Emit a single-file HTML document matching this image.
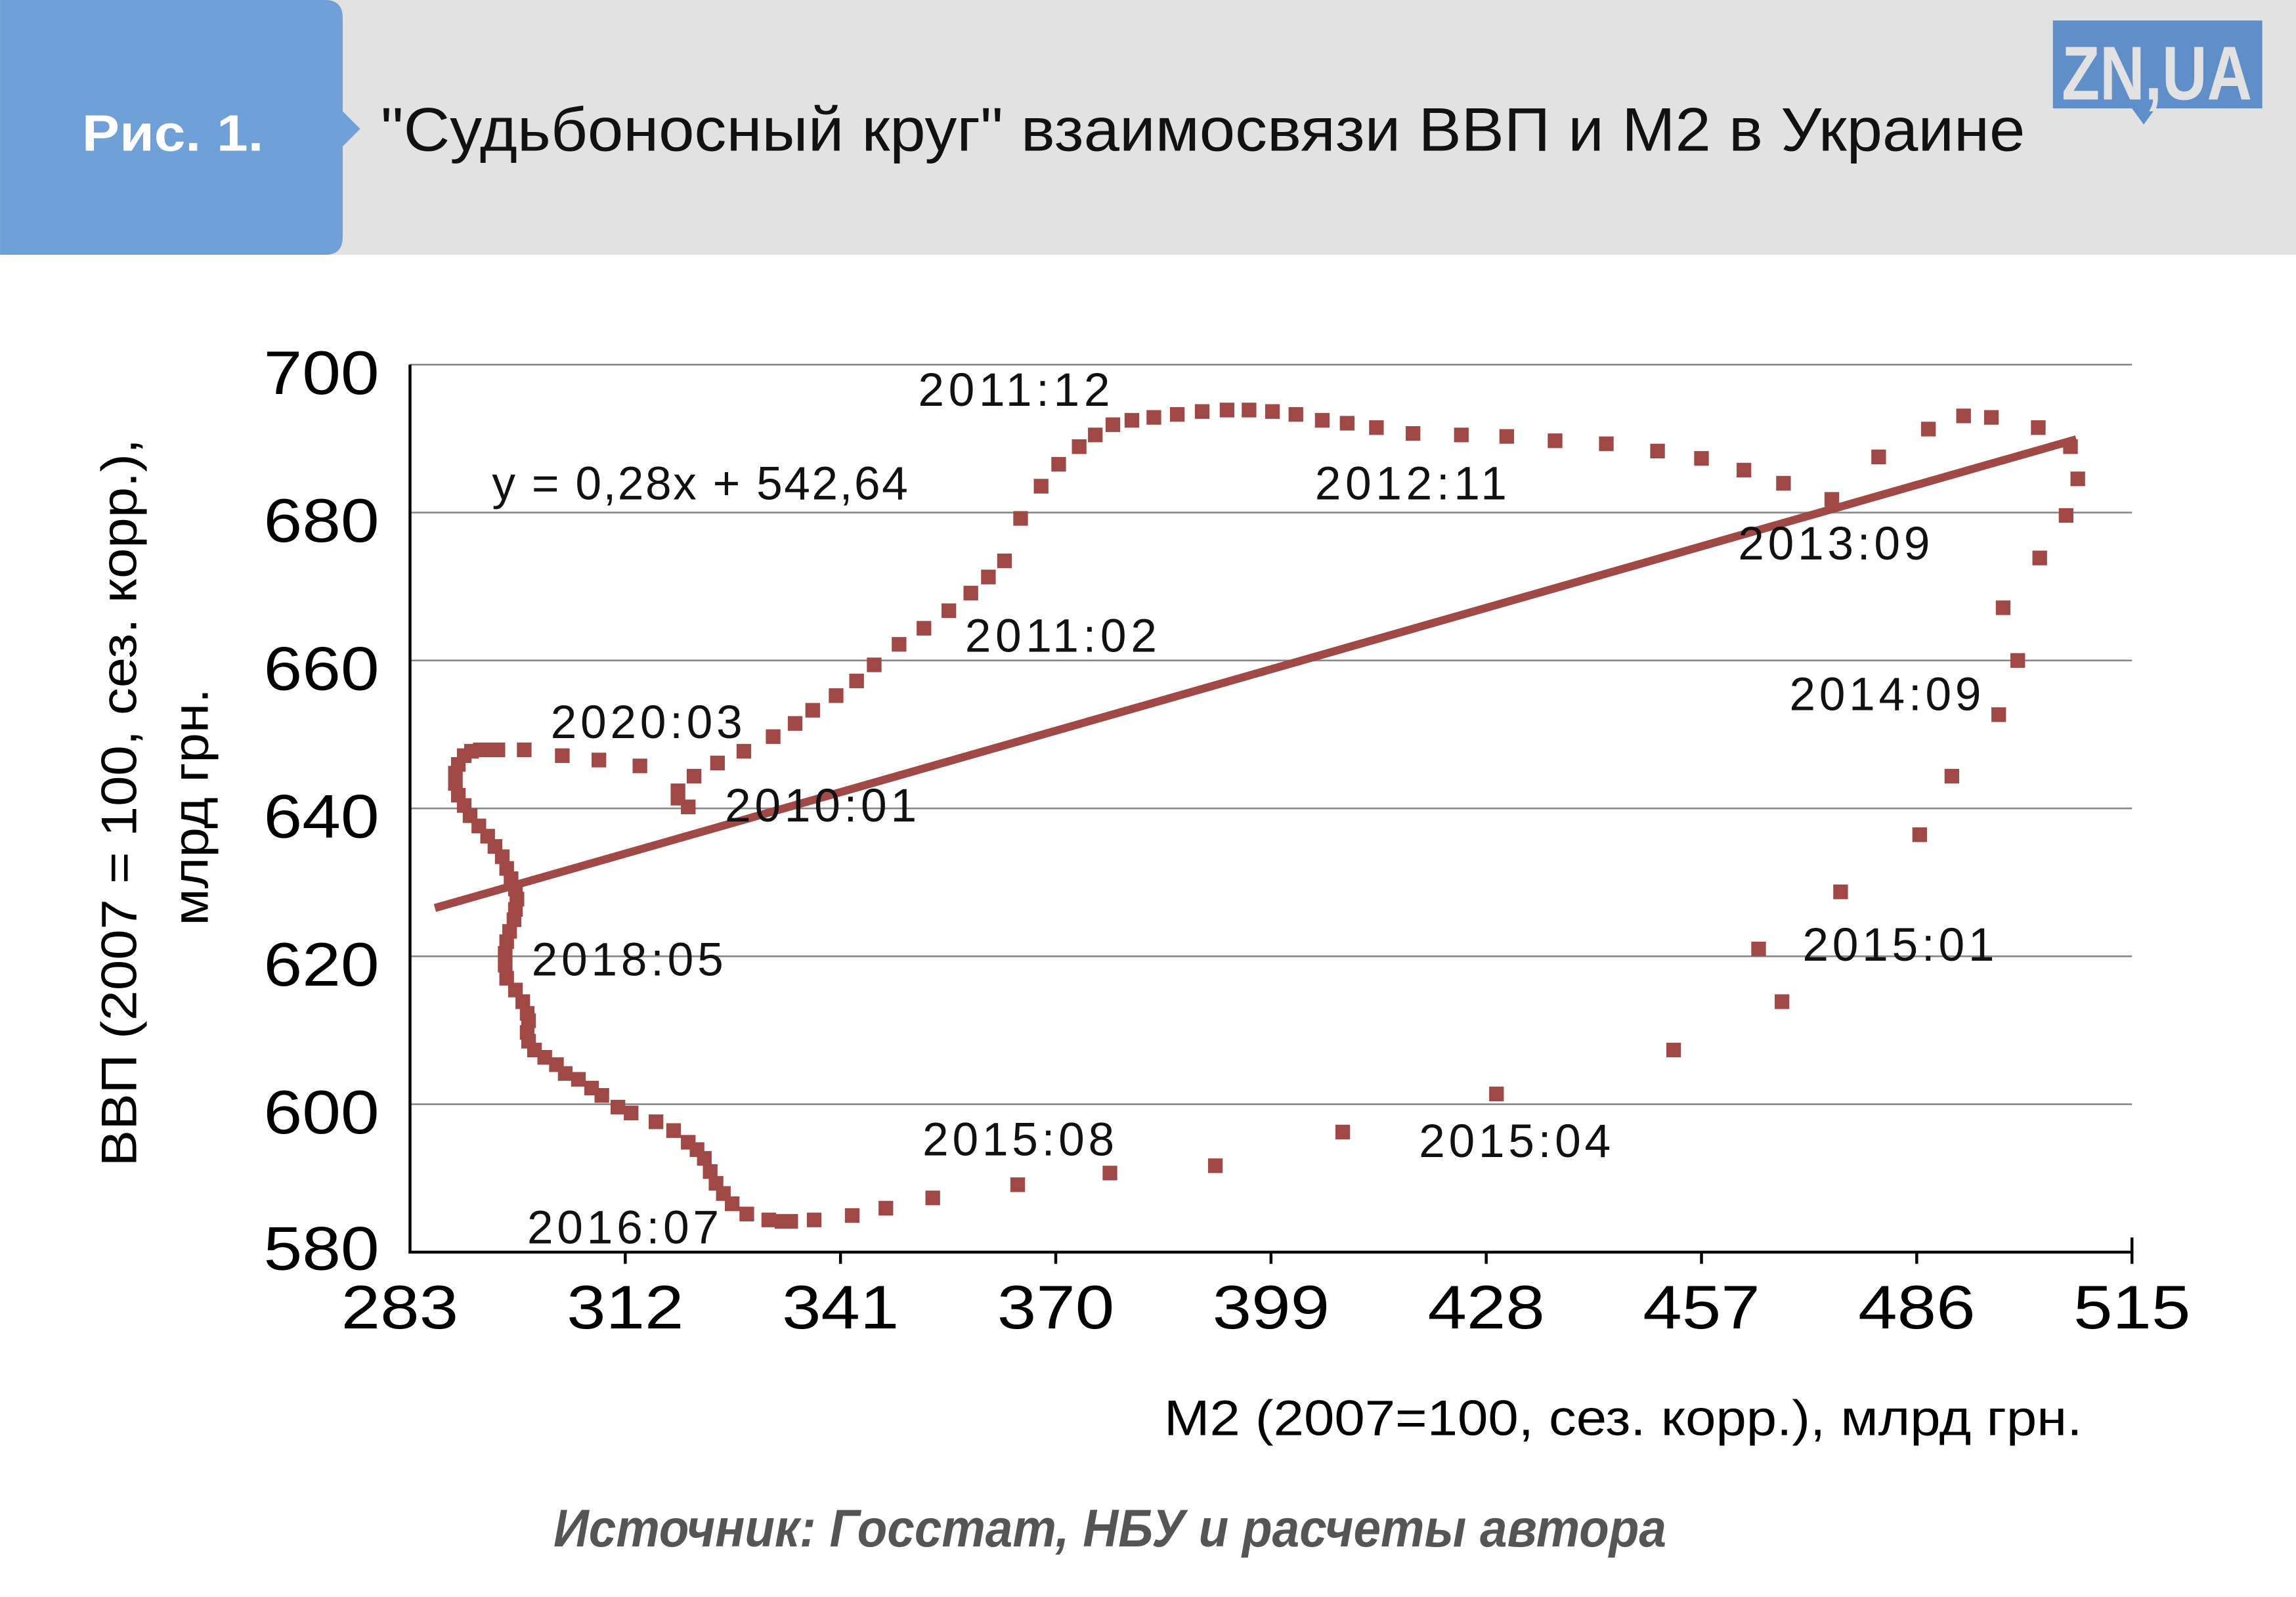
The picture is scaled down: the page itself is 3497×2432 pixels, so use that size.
<!DOCTYPE html>
<html><head><meta charset="utf-8"><style>
html,body{margin:0;padding:0;background:#fff}
svg{display:block}
text{font-family:"Liberation Sans",sans-serif}
</style></head><body>
<svg width="3497" height="2432" viewBox="0 0 1568 1090.5" xmlns="http://www.w3.org/2000/svg">
<rect x="0" y="0" width="1568" height="174" fill="#e2e2e2"/>
<path d="M0 0 H222 Q234 0 234 12 V76 L246 88 L234 100 V162 Q234 174 222 174 H0 Z" fill="#6fa0d8"/>
<text x="56" y="103" fill="#fff" font-size="35" font-weight="bold" textLength="124" lengthAdjust="spacingAndGlyphs">Рис. 1.</text>
<text x="260" y="103" fill="#111" font-size="42" textLength="1123" lengthAdjust="spacingAndGlyphs">"Судьбоносный круг" взаимосвязи ВВП и М2 в Украине</text>
<rect x="1402" y="14" width="143" height="60" fill="#5f8ec8"/>
<path d="M1456 74 L1472 74 L1464 85 Z" fill="#5f8ec8"/>
<text x="1473" y="68" fill="#e2e2e2" font-size="52" font-weight="bold" text-anchor="middle" textLength="130" lengthAdjust="spacingAndGlyphs">ZN,UA</text>
<g stroke="#888" stroke-width="1.2">
<line x1="280" y1="249" x2="1456" y2="249"/>
<line x1="280" y1="350" x2="1456" y2="350"/>
<line x1="280" y1="451" x2="1456" y2="451"/>
<line x1="280" y1="552" x2="1456" y2="552"/>
<line x1="280" y1="653" x2="1456" y2="653"/>
<line x1="280" y1="754" x2="1456" y2="754"/>
</g>
<g stroke="#000" stroke-width="2">
<line x1="280" y1="249" x2="280" y2="856"/>
<line x1="279" y1="855" x2="1457" y2="855"/>
<line x1="427" y1="855" x2="427" y2="863"/><line x1="574" y1="855" x2="574" y2="863"/>
<line x1="721" y1="855" x2="721" y2="863"/><line x1="868" y1="855" x2="868" y2="863"/>
<line x1="1015" y1="855" x2="1015" y2="863"/><line x1="1162" y1="855" x2="1162" y2="863"/>
<line x1="1309" y1="855" x2="1309" y2="863"/><line x1="1456" y1="845" x2="1456" y2="863"/>
</g>
<g font-size="42" fill="#000" text-anchor="end">
<text x="259" y="269" textLength="79" lengthAdjust="spacingAndGlyphs">700</text><text x="259" y="370" textLength="79" lengthAdjust="spacingAndGlyphs">680</text><text x="259" y="471" textLength="79" lengthAdjust="spacingAndGlyphs">660</text>
<text x="259" y="572" textLength="79" lengthAdjust="spacingAndGlyphs">640</text><text x="259" y="673" textLength="79" lengthAdjust="spacingAndGlyphs">620</text><text x="259" y="774" textLength="79" lengthAdjust="spacingAndGlyphs">600</text><text x="259" y="867" textLength="79" lengthAdjust="spacingAndGlyphs">580</text>
</g>
<g font-size="42" fill="#000" text-anchor="middle">
<text x="273" y="907" textLength="80" lengthAdjust="spacingAndGlyphs">283</text><text x="427" y="907" textLength="80" lengthAdjust="spacingAndGlyphs">312</text><text x="574" y="907" textLength="80" lengthAdjust="spacingAndGlyphs">341</text><text x="721" y="907" textLength="80" lengthAdjust="spacingAndGlyphs">370</text>
<text x="868" y="907" textLength="80" lengthAdjust="spacingAndGlyphs">399</text><text x="1015" y="907" textLength="80" lengthAdjust="spacingAndGlyphs">428</text><text x="1162" y="907" textLength="80" lengthAdjust="spacingAndGlyphs">457</text><text x="1309" y="907" textLength="80" lengthAdjust="spacingAndGlyphs">486</text><text x="1456" y="907" textLength="80" lengthAdjust="spacingAndGlyphs">515</text>
</g>
<text transform="translate(93,548) rotate(-90)" font-size="34" text-anchor="middle" textLength="497" lengthAdjust="spacingAndGlyphs">ВВП (2007 = 100, сез. корр.),</text>
<text transform="translate(142,551) rotate(-90)" font-size="34" text-anchor="middle" textLength="162" lengthAdjust="spacingAndGlyphs">млрд грн.</text>
<text x="795" y="980" font-size="34" textLength="627" lengthAdjust="spacingAndGlyphs">М2 (2007=100, сез. корр.), млрд грн.</text>
<text x="378" y="1056" font-size="36" font-weight="bold" font-style="italic" fill="#555" textLength="760" lengthAdjust="spacingAndGlyphs">Источник: Госстат, НБУ и расчеты автора</text>
<line x1="297" y1="620" x2="1418" y2="300" stroke="#a04845" stroke-width="5.5"/>
<g font-size="32" fill="#111" lengthAdjust="spacingAndGlyphs">
<text x="627" y="277" textLength="131">2011:12</text><text x="336" y="341" textLength="284">y = 0,28x + 542,64</text>
<text x="898" y="341" textLength="131">2012:11</text><text x="1187" y="382" textLength="131">2013:09</text>
<text x="659" y="445" textLength="131">2011:02</text><text x="1222" y="485" textLength="131">2014:09</text>
<text x="376" y="504" textLength="131">2020:03</text><text x="495" y="561" textLength="131">2010:01</text>
<text x="1231" y="656" textLength="131">2015:01</text><text x="363" y="666" textLength="131">2018:05</text>
<text x="630" y="789" textLength="131">2015:08</text><text x="969" y="790" textLength="131">2015:04</text>
<text x="360" y="849" textLength="131">2016:07</text>
</g>
<g fill="#a04845">
<path d="M465 546h10v10h-10zM458 540h10v10h-10zM458 535h10v10h-10zM469 525h10v10h-10zM485 516h10v10h-10zM503 508h10v10h-10zM523 498h10v10h-10zM538 489h10v10h-10zM550 480h10v10h-10zM566 470h10v10h-10zM580 460h10v10h-10zM592 449h10v10h-10zM609 435h10v10h-10zM626 424h10v10h-10zM643 412h10v10h-10zM658 400h10v10h-10zM670 389h10v10h-10zM681 378h10v10h-10zM692 349h10v10h-10zM706 327h10v10h-10zM718 312h10v10h-10zM732 300h10v10h-10zM743 292h10v10h-10zM755 285h10v10h-10zM768 282h10v10h-10zM783 280h10v10h-10zM799 278h10v10h-10zM816 276h10v10h-10zM833 275h10v10h-10zM848 275h10v10h-10zM864 276h10v10h-10zM880 278h10v10h-10zM898 282h10v10h-10zM915 284h10v10h-10zM935 287h10v10h-10zM960 291h10v10h-10zM993 292h10v10h-10zM1024 293h10v10h-10zM1057 296h10v10h-10zM1092 298h10v10h-10zM1127 303h10v10h-10zM1157 308h10v10h-10zM1186 316h10v10h-10zM1213 325h10v10h-10zM1246 336h10v10h-10zM1278 307h10v10h-10zM1312 288h10v10h-10zM1336 279h10v10h-10zM1355 280h10v10h-10zM1387 287h10v10h-10zM1409 300h10v10h-10zM1414 322h10v10h-10zM1406 347h10v10h-10zM1388 376h10v10h-10zM1363 410h10v10h-10zM1373 446h10v10h-10zM1360 483h10v10h-10zM1328 525h10v10h-10zM1306 565h10v10h-10zM1252 604h10v10h-10zM1196 643h10v10h-10zM1212 679h10v10h-10zM1138 712h10v10h-10zM1017 742h10v10h-10zM912 768h10v10h-10zM825 791h10v10h-10zM753 796h10v10h-10zM690 804h10v10h-10zM632 813h10v10h-10zM600 820h10v10h-10zM577 825h10v10h-10zM551 828h10v10h-10zM535 829h10v10h-10zM529 829h10v10h-10zM520 828h10v10h-10zM505 824h10v10h-10zM495 817h10v10h-10zM489 810h10v10h-10zM484 803h10v10h-10zM480 795h10v10h-10zM476 786h10v10h-10zM471 780h10v10h-10zM465 775h10v10h-10zM455 767h10v10h-10zM443 761h10v10h-10zM426 755h10v10h-10zM417 751h10v10h-10zM406 743h10v10h-10zM399 738h10v10h-10zM390 732h10v10h-10zM381 728h10v10h-10zM375 722h10v10h-10zM367 717h10v10h-10zM360 712h10v10h-10zM356 706h10v10h-10zM355 700h10v10h-10zM356 692h10v10h-10zM355 687h10v10h-10zM352 679h10v10h-10zM347 671h10v10h-10zM341 663h10v10h-10zM340 654h10v10h-10zM340 646h10v10h-10zM341 638h10v10h-10zM343 631h10v10h-10zM346 623h10v10h-10zM347 616h10v10h-10zM348 609h10v10h-10zM347 602h10v10h-10zM344 595h10v10h-10zM341 588h10v10h-10zM338 580h10v10h-10zM333 573h10v10h-10zM328 566h10v10h-10zM322 559h10v10h-10zM316 552h10v10h-10zM312 545h10v10h-10zM308 538h10v10h-10zM306 530h10v10h-10zM306 523h10v10h-10zM308 517h10v10h-10zM312 511h10v10h-10zM317 508h10v10h-10zM323 507h10v10h-10zM329 507h10v10h-10zM335 507h10v10h-10zM353 507h10v10h-10zM379 511h10v10h-10zM404 514h10v10h-10zM432 518h10v10h-10z"/>
</g>
</svg>
</body></html>
